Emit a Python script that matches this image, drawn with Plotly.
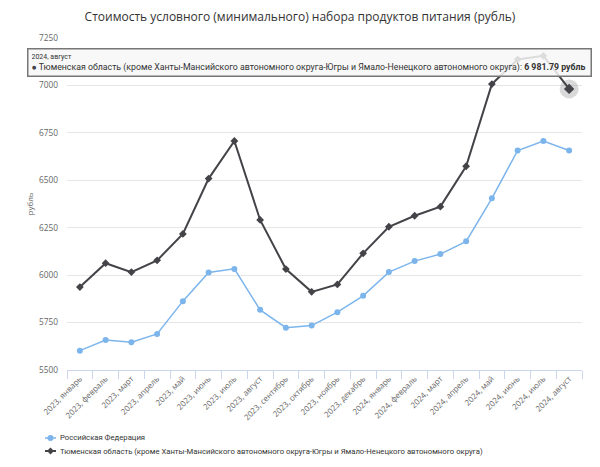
import plotly.graph_objects as go

categories = [
    "2023, январь", "2023, февраль", "2023, март", "2023, апрель", "2023, май",
    "2023, июнь", "2023, июль", "2023, август", "2023, сентябрь", "2023, октябрь",
    "2023, ноябрь", "2023, декабрь", "2024, январь", "2024, февраль", "2024, март",
    "2024, апрель", "2024, май", "2024, июнь", "2024, июль", "2024, август",
]
rf_name = "Российская Федерация"
rf_values = [5602, 5658, 5646, 5690, 5863, 6014, 6033, 5817, 5723, 5734,
             5805, 5891, 6016, 6074, 6111, 6178, 6405, 6657, 6707, 6657]
tyum_name = "Тюменская область (кроме Ханты-Мансийского автономного округа-Югры и Ямало-Ненецкого автономного округа)"
tyum_values = [5937, 6063, 6016, 6078, 6217, 6509, 6707, 6291, 6032, 5912,
               5951, 6115, 6255, 6313, 6361, 6574, 7007, 7137, 7156, 6981.79]
y_ticks = [5500, 5750, 6000, 6250, 6500, 6750, 7000, 7250]

title_text = "Стоимость условного (минимального) набора продуктов питания (рубль)"
unit = "рубль"

RF_COLOR = "#7cb5ec"
TY_COLOR = "#434348"

# the page body has an 8px margin; work in page pixels and shift
OFF = 8
W, H = 600 - OFF, 467 - OFF
PL, PR, PT, PB = 67, 582, 38, 370          # plot area in page pixels
ML, MT = PL - OFF, PT - OFF
MR, MB = W - (PR - OFF), H - (PB - OFF)
PW, PH = PR - PL, PB - PT


def px(x):
    return (x - PL) / PW


def py(y):
    return (PB - y) / PH


fig = go.Figure()
fig.add_trace(go.Scatter(
    x=categories, y=rf_values, name=rf_name, mode="lines+markers",
    line=dict(color=RF_COLOR, width=1.5),
    marker=dict(symbol="circle", size=6, color=RF_COLOR),
))
fig.add_trace(go.Scatter(
    x=categories, y=tyum_values, name=tyum_name, mode="lines+markers",
    line=dict(color=TY_COLOR, width=2),
    marker=dict(symbol="diamond", size=6, color=TY_COLOR),
))
# hover halo on the last point
fig.add_trace(go.Scatter(
    x=[categories[-1]], y=[tyum_values[-1]], mode="markers", showlegend=False,
    hoverinfo="skip",
    marker=dict(symbol="circle", size=19, color="rgba(67,67,72,0.2)"),
))
fig.add_trace(go.Scatter(
    x=[categories[-1]], y=[tyum_values[-1]], mode="markers", showlegend=False,
    hoverinfo="skip",
    marker=dict(symbol="diamond", size=8, color=TY_COLOR),
))

last_val = f"{tyum_values[-1]:,.2f}".replace(",", " ")
tooltip = (f"<span style='font-size:7px'>{categories[-1]}</span><br>"
           f"<span style='color:{TY_COLOR}'>●</span> {tyum_name}: <b>{last_val} {unit}</b>")

fig.add_annotation(
    xref="paper", yref="paper", x=px(27), y=py(48), xanchor="left", yanchor="top",
    text=tooltip, showarrow=False, align="left",
    font=dict(family="Roboto, sans-serif", size=8.75, color="#333333"),
    bgcolor="rgba(247,247,247,0.85)", bordercolor="#777777", borderwidth=1.5,
    borderpad=3, width=556,
)

# manual legend (short symbols like the reference)
legend_items = [(rf_name, RF_COLOR, "circle", 438), (tyum_name, TY_COLOR, "diamond", 451)]
for name, color, sym, yy in legend_items:
    fig.add_shape(type="line", xref="paper", yref="paper",
                  x0=px(45), x1=px(56), y0=py(yy), y1=py(yy),
                  line=dict(color=color, width=1.5 if sym == "circle" else 2))
    if sym == "circle":
        fig.add_shape(type="circle", xref="paper", yref="paper",
                      x0=px(47.5), x1=px(53.5), y0=py(yy + 3), y1=py(yy - 3),
                      line=dict(width=0), fillcolor=color)
    else:
        cx, cy, r = 50.5, yy, 3.5
        path = (f"M {px(cx)},{py(cy - r)} L {px(cx + r)},{py(cy)} "
                f"L {px(cx)},{py(cy + r)} L {px(cx - r)},{py(cy)} Z")
        fig.add_shape(type="path", xref="paper", yref="paper", path=path,
                      line=dict(width=0), fillcolor=color)
    fig.add_annotation(xref="paper", yref="paper", x=px(58), y=py(yy),
                       xanchor="left", yanchor="middle", text=name, showarrow=False,
                       font=dict(family="Roboto, sans-serif", size=7.7, color="#333333"))

fig.update_layout(
    width=W, height=H,
    margin=dict(l=ML, r=MR, t=MT, b=MB, autoexpand=False),
    paper_bgcolor="white", plot_bgcolor="white",
    title=dict(text=title_text, x=px(300), xref="paper", xanchor="center",
               y=1 - (17 - OFF) / H, yanchor="middle",
               font=dict(family="Open Sans, sans-serif", size=12, color="#333333")),
    font=dict(family="Open Sans, sans-serif", color="#666666"),
    showlegend=False,
    hovermode=False,
)
fig.update_xaxes(
    type="category", range=[-0.5, len(categories) - 0.5], tickangle=-45,
    tickfont=dict(size=8, color="#666666"), showgrid=False,
    showline=True, linecolor="#ccd6eb", linewidth=1,
    ticks="outside", tickson="boundaries", tickcolor="#ccd6eb", ticklen=8,
    automargin=False,
)
fig.update_yaxes(
    range=[5500, 7250], tickvals=y_ticks, tickfont=dict(size=8.3, color="#666666"),
    showgrid=True, gridcolor="#e6e6e6", gridwidth=1, zeroline=False, showline=False,
    ticklabelstandoff=8,
    title=dict(text=unit, font=dict(size=8, color="#666666"), standoff=4),
    automargin=False,
)

fig.write_html("out.html")
